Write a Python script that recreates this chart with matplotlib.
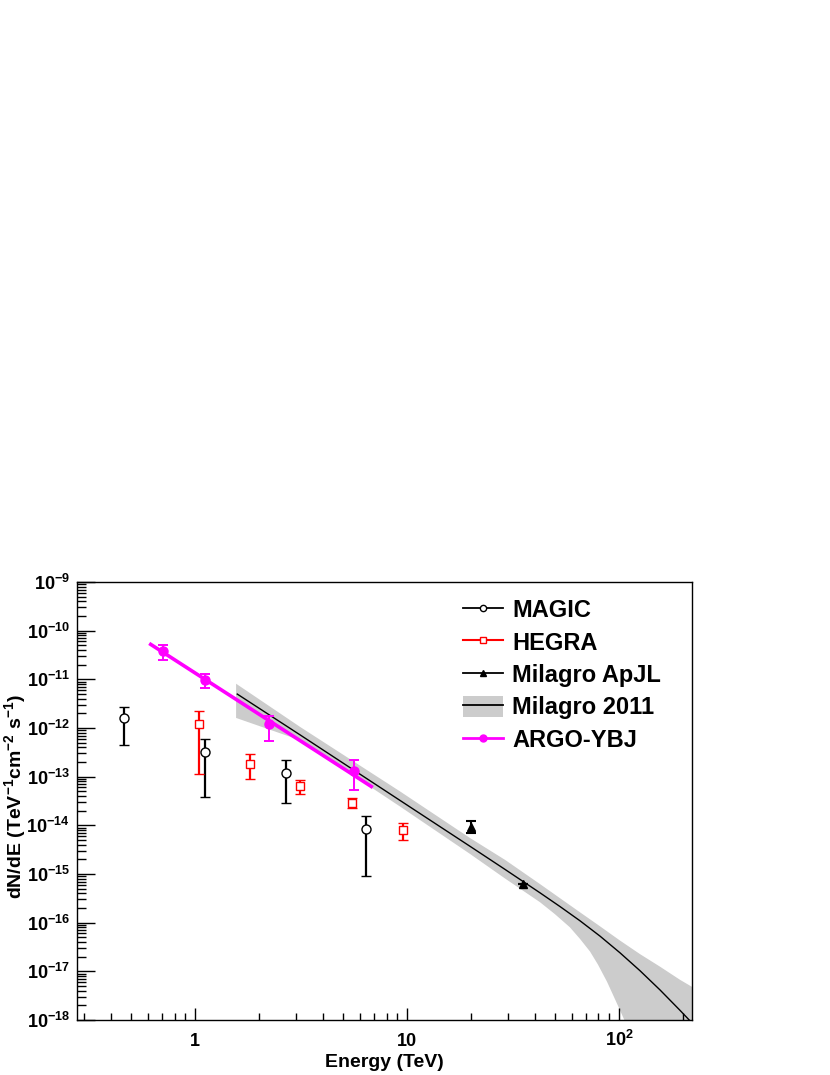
import matplotlib
matplotlib.use('Agg')
import numpy as np
import matplotlib.pyplot as plt
from matplotlib.lines import Line2D
from matplotlib.patches import Patch
from matplotlib.legend_handler import HandlerTuple
from matplotlib.ticker import LogLocator, FuncFormatter, NullFormatter

plt.rcParams['font.family'] = ['Liberation Sans', 'DejaVu Sans']
plt.rcParams['font.weight'] = 'bold'
plt.rcParams['axes.labelweight'] = 'bold'
plt.rcParams['mathtext.fontset'] = 'custom'
plt.rcParams['mathtext.rm'] = 'Liberation Sans:bold'
plt.rcParams['mathtext.it'] = 'Liberation Sans:bold'
plt.rcParams['mathtext.bf'] = 'Liberation Sans:bold'
plt.rcParams['mathtext.default'] = 'rm'

# MAGIC
magic_e = [0.463, 1.115, 2.69, 6.43]
magic_f = [1.63e-12, 3.14e-13, 1.21e-13, 8.24e-15]
magic_hi = [2.75e-12, 6.0e-13, 2.18e-13, 1.58e-14]
magic_lo = [4.45e-13, 3.79e-14, 2.9e-14, 9.1e-16]

# HEGRA
hegra_e = [1.041, 1.82, 3.14, 5.5, 9.55]
hegra_f = [1.19e-12, 1.86e-13, 6.4e-14, 2.9e-14, 8.0e-15]
hegra_hi = [2.28e-12, 2.86e-13, 8.4e-14, 3.68e-14, 1.1e-14]
hegra_lo = [1.16e-13, 9.1e-14, 4.46e-14, 2.29e-14, 4.98e-15]

# Milagro ApJL
milagro_e = [20.0, 35.1]
milagro_f = [9.38e-15, 6.12e-16]
milagro_hi = [1.25e-14, 6.12e-16]
milagro_lo = [6.8e-15, 6.12e-16]

# ARGO-YBJ points + fit
argo_e = [0.704, 1.115, 2.23, 5.6]
argo_f = [3.79e-11, 9.84e-12, 1.19e-12, 1.31e-13]
argo_hi = [5.14e-11, 1.31e-11, 1.77e-12, 2.15e-13]
argo_lo = [2.55e-11, 6.5e-12, 5.46e-13, 5.2e-14]
argo_fit_e = [0.607, 6.89]
argo_fit_f = [5.47e-11, 6.0e-14]

# Milagro 2011 fit and band
m11_e = [1.58, 3.13, 9.27, 20.0, 29.0, 42.4, 52.7, 65.5, 81.4, 101.1, 125.6, 156.1, 194, 221]
m11_f = [4.98e-12, 7.2e-13, 3.24e-14, 3.61e-15, 1.24e-15, 4.1e-16, 2.14e-16, 1.09e-16,
         5.28e-17, 2.40e-17, 1.03e-17, 4.15e-18, 1.58e-18, 8.7e-19]
band_up_e = [1.56, 3.13, 9.27, 19.8, 29.0, 42.4, 65.5, 81.4, 101, 125.6, 156, 194, 221]
band_up_f = [8.13e-12, 1.05e-12, 4.97e-14, 5.5e-15, 1.95e-15, 6.2e-16, 1.63e-16, 8.4e-17,
             4.3e-17, 2.26e-17, 1.25e-17, 6.7e-18, 4.8e-18]
band_lo_e = [1.56, 3.13, 9.27, 19.8, 29.0, 42.4, 49.9, 58.7, 65.5, 73.0, 79.6, 87.8, 96.8,
             107, 117.7, 140, 221]
band_lo_f = [1.61e-12, 5.6e-13, 2.43e-14, 2.59e-15, 8.07e-16, 2.63e-16, 1.49e-16, 8.0e-17,
             4.62e-17, 2.55e-17, 1.37e-17, 6.1e-18, 2.41e-18, 9.1e-19, 3.3e-19, 5.3e-20, 1e-22]

y_decades = list(range(-18, -8))
labels = ['MAGIC', 'HEGRA', 'Milagro ApJL', 'Milagro 2011', 'ARGO-YBJ']


def yerr(f, lo, hi):
    f = np.array(f)
    return [f - np.array(lo), np.array(hi) - f]


fig = plt.figure(figsize=(8.3, 10.75), dpi=100)
ax = fig.add_axes([77 / 830, 1 - 1020 / 1075, 615 / 830, 438 / 1075])

ax.fill(np.concatenate([band_up_e, band_lo_e[::-1]]),
        np.concatenate([band_up_f, band_lo_f[::-1]]),
        color='#cccccc', lw=0, zorder=1)
ax.plot(m11_e, m11_f, color='black', lw=1.0, zorder=2)
ax.plot(argo_fit_e, argo_fit_f, color='#ff00ff', lw=2.6, zorder=3,
        solid_capstyle='butt')

ax.errorbar(magic_e, magic_f, yerr=yerr(magic_f, magic_lo, magic_hi),
            fmt='o', color='black', ms=6.5, mfc='white', mec='black', mew=1.0,
            elinewidth=1.6, capsize=3.5, capthick=1.6, zorder=4)
ax.errorbar(hegra_e, hegra_f, yerr=yerr(hegra_f, hegra_lo, hegra_hi),
            fmt='s', color='red', ms=6.3, mfc='white', mec='red', mew=1.0,
            elinewidth=1.6, capsize=3.5, capthick=1.6, zorder=4)
ax.errorbar(milagro_e, milagro_f, yerr=yerr(milagro_f, milagro_lo, milagro_hi),
            fmt='^', color='black', ms=5.3, elinewidth=1.5, capsize=3.5,
            capthick=1.5, zorder=4)
ax.errorbar(argo_e, argo_f, yerr=yerr(argo_f, argo_lo, argo_hi),
            fmt='o', color='#ff00ff', ms=6.5, elinewidth=1.4, capsize=3.5,
            capthick=1.4, zorder=5)

ax.set_xscale('log')
ax.set_yscale('log')
ax.set_xlim(0.277, 221)
ax.set_ylim(1e-18, 1e-9)

ax.set_yticks([10.0 ** k for k in y_decades])
ax.yaxis.set_major_formatter(FuncFormatter(lambda v, p: r'$10^{%d}$' % round(np.log10(v))))
ax.yaxis.set_minor_locator(LogLocator(base=10, subs=np.arange(2, 10), numticks=20))
ax.yaxis.set_minor_formatter(NullFormatter())

ax.set_xticks([1, 10, 100])
ax.set_xticklabels(['1', '10', r'$10^{2}$'])
ax.xaxis.set_minor_locator(LogLocator(base=10, subs=np.arange(2, 10), numticks=20))
ax.xaxis.set_minor_formatter(NullFormatter())
for t in ax.xaxis.get_major_ticks():
    t.label1.set_verticalalignment('baseline')

ax.tick_params(axis='both', which='both', direction='in', top=False, right=False,
               labelsize=13, width=1.0)
ax.tick_params(axis='y', which='major', length=13, pad=5)
ax.tick_params(axis='y', which='minor', length=6.5)
ax.tick_params(axis='x', which='major', length=9, pad=19)
ax.tick_params(axis='x', which='minor', length=5)
for s in ax.spines.values():
    s.set_linewidth(1.0)

ax.set_xlabel('Energy (TeV)', fontsize=14)
ax.xaxis.set_label_coords(0.5, -0.078)
ax.set_ylabel(r'dN/dE (TeV$^{-1}$cm$^{-2}$ s$^{-1}$)', fontsize=14)
ax.yaxis.set_label_coords(-0.079, 0.51)

h_magic = Line2D([], [], color='black', lw=1.3, marker='o', ms=4.5, mfc='white', mec='black')
h_hegra = Line2D([], [], color='red', lw=1.5, marker='s', ms=5, mfc='white', mec='red')
h_milagro = Line2D([], [], color='black', lw=1.3, marker='^', ms=5)
h_m11 = (Patch(facecolor='#cccccc', edgecolor='none'), Line2D([], [], color='black', lw=1.3))
h_argo = Line2D([], [], color='#ff00ff', lw=2.0, marker='o', ms=5)
ax.legend([h_magic, h_hegra, h_milagro, h_m11, h_argo], labels,
          handler_map={tuple: HandlerTuple(ndivide=1, pad=0)},
          loc='upper left', bbox_to_anchor=(0.627, 0.962), frameon=False,
          fontsize=17, handlelength=1.7, handleheight=1.0,
          handletextpad=0.4, labelspacing=0.37, borderpad=0, borderaxespad=0)

fig.savefig('out.png', dpi=100)
